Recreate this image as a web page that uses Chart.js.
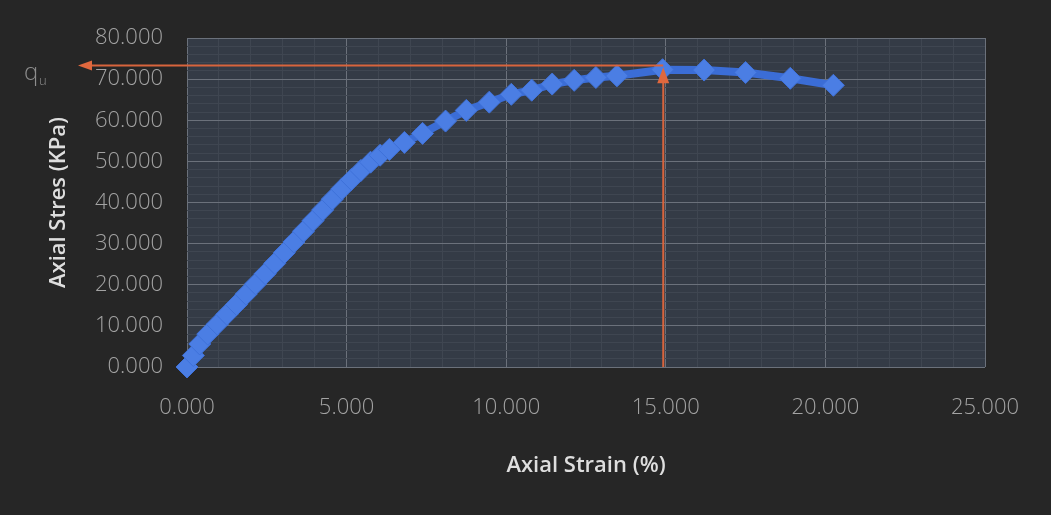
<!DOCTYPE html>
<html>
<head>
<meta charset="utf-8">
<script src="https://cdn.jsdelivr.net/npm/chart.js@4/dist/chart.umd.min.js"></script>
<style>
  html, body { margin: 0; padding: 0; background: #262626; }
  #wrap { width: 1051px; height: 515px; position: relative; }
</style>
</head>
<body>
<div id="wrap"><canvas id="c" width="1051" height="515"></canvas></div>
<script>
// ---- data ----
const strainPct = [0, 0.2, 0.4, 0.65, 0.95, 1.25, 1.55, 1.85, 2.15, 2.45, 2.75, 3.05, 3.35, 3.65, 3.95, 4.25, 4.55, 4.85, 5.15, 5.45, 5.75, 6.05, 6.34, 6.81, 7.38, 8.1, 8.75, 9.47, 10.16, 10.8, 11.44, 12.13, 12.81, 13.47, 14.9, 16.2, 17.5, 18.9, 20.25];
const stressKPa = [0, 2.8, 5.6, 8.0, 10.4, 12.8, 15.2, 17.7, 20.2, 22.7, 25.2, 27.8, 30.4, 33.0, 35.6, 38.2, 40.8, 43.3, 45.6, 47.8, 49.8, 51.5, 52.9, 54.6, 56.8, 59.8, 62.4, 64.4, 66.3, 67.3, 68.8, 69.7, 70.4, 70.8, 72.3, 72.2, 71.6, 70.2, 68.5];
const quValue = 73.3;       // ultimate strength marked by the horizontal arrow
const quStrain = 14.92;     // strain at which the vertical arrow is drawn
const xTickLabels = [0, 5, 10, 15, 20, 25];
const yTickLabels = [0, 10, 20, 30, 40, 50, 60, 70, 80];
const xTitle = 'Axial Strain (%)';
const yTitle = 'Axial Stres (KPa)';

const points = strainPct.map((s, i) => ({ x: s, y: stressKPa[i] }));

const plotBg = {
  id: 'plotBg',
  beforeDraw(chart) {
    const { ctx, chartArea: a } = chart;
    ctx.save();
    ctx.fillStyle = '#343b46';
    ctx.fillRect(a.left, a.top, a.right - a.left, a.bottom - a.top);
    ctx.restore();
  }
};

function arrowHead(ctx, tipX, tipY, dir, len, half) {
  ctx.beginPath();
  if (dir === 'left') {
    ctx.moveTo(tipX, tipY);
    ctx.lineTo(tipX + len, tipY - half);
    ctx.lineTo(tipX + len, tipY + half);
  } else {
    ctx.moveTo(tipX, tipY);
    ctx.lineTo(tipX - half, tipY + len);
    ctx.lineTo(tipX + half, tipY + len);
  }
  ctx.closePath();
  ctx.fill();
}

const quMarks = {
  id: 'quMarks',
  afterDatasetsDraw(chart) {
    const { ctx, scales: { x, y }, chartArea: a } = chart;
    const px = x.getPixelForValue(quStrain);
    const py = y.getPixelForValue(quValue);
    const y0 = y.getPixelForValue(0);
    const tipTop = y.getPixelForValue(72.9);
    const leftTip = a.left - 109;
    ctx.save();
    ctx.strokeStyle = '#d8643c';
    ctx.fillStyle = '#e0683e';
    ctx.lineWidth = 2;
    ctx.beginPath();
    ctx.moveTo(px, py);
    ctx.lineTo(leftTip + 12, py);
    ctx.stroke();
    arrowHead(ctx, leftTip, py, 'left', 14, 5);
    ctx.beginPath();
    ctx.moveTo(px, y0);
    ctx.lineTo(px, tipTop + 12);
    ctx.stroke();
    arrowHead(ctx, px, tipTop, 'up', 16, 6);
    ctx.fillStyle = '#8e8e8e';
    ctx.textBaseline = 'alphabetic';
    ctx.font = '300 24px "Open Sans", sans-serif';
    ctx.fillText('q', 24, py + 14);
    ctx.font = '300 13px "Open Sans", sans-serif';
    ctx.fillText('u', 39, py + 19);
    ctx.restore();
  }
};

const majorGrid = '#6b717b';
const minorGrid = '#3f4651';

new Chart(document.getElementById('c'), {
  type: 'line',
  data: {
    datasets: [{
      data: points,
      borderColor: '#3b6dd6',
      borderWidth: 8,
      pointStyle: 'rectRot',
      pointRadius: 11,
      pointBackgroundColor: '#4b7ee4',
      pointBorderColor: '#3f72da',
      pointBorderWidth: 1,
      tension: 0,
      clip: false
    }]
  },
  options: {
    responsive: false,
    animation: false,
    devicePixelRatio: 1,
    layout: { padding: { top: 38, right: 66, left: 0, bottom: 0 } },
    plugins: { legend: { display: false }, tooltip: { enabled: false } },
    scales: {
      x: {
        type: 'linear',
        min: 0, max: 25,
        ticks: {
          stepSize: 1,
          autoSkip: false,
          maxRotation: 0,
          padding: 28,
          color: '#a3a3a3',
          font: { family: '"Open Sans", sans-serif', size: 22, weight: '300' },
          callback: v => xTickLabels.includes(v) ? v.toFixed(3) : ''
        },
        grid: {
          drawTicks: false,
          color: c => (c.tick && xTickLabels.includes(c.tick.value)) ? majorGrid : minorGrid,
          lineWidth: 1
        },
        border: { display: false },
        title: {
          display: true, text: xTitle, color: '#dedede',
          font: { family: '"Open Sans", sans-serif', size: 22, weight: '600' },
          padding: { top: 0, bottom: 36 }
        },
        afterFit(s) { s.height = 148; }
      },
      y: {
        type: 'linear',
        min: 0, max: 80,
        ticks: {
          stepSize: 2,
          autoSkip: false,
          padding: 24,
          color: '#a3a3a3',
          font: { family: '"Open Sans", sans-serif', size: 22, weight: '300' },
          callback: v => yTickLabels.includes(v) ? v.toFixed(3) : ''
        },
        grid: {
          drawTicks: false,
          color: c => (c.tick && yTickLabels.includes(c.tick.value)) ? majorGrid : minorGrid,
          lineWidth: 1
        },
        border: { display: false },
        title: {
          display: true, text: yTitle, color: '#dedede',
          font: { family: '"Open Sans", sans-serif', size: 22, weight: '600' },
          padding: { top: 46, bottom: 0 }
        },
        afterFit(s) { s.width = 187; }
      }
    }
  },
  plugins: [plotBg, quMarks]
});
</script>
</body>
</html>
